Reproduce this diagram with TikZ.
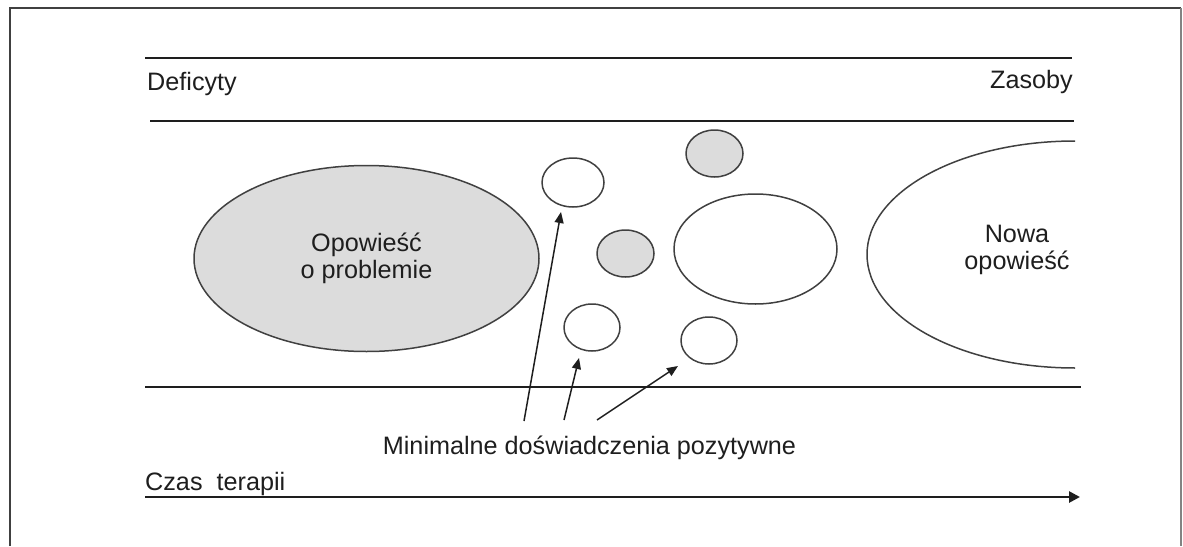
\documentclass[tikz,border=0pt]{standalone}
\usepackage{fontspec}
\setmainfont{Liberation Sans}
\usetikzlibrary{shapes.geometric,arrows.meta}
\definecolor{ink}{HTML}{1E1E1E}
\definecolor{edge}{HTML}{404040}
\definecolor{story}{HTML}{DCDCDC}
\begin{document}
\begin{tikzpicture}[x=1pt,y=-1pt,
  txt/.style={font=\fontsize{25.2}{27}\selectfont, text=ink, inner sep=0pt},
  band/.style={draw=ink, line width=2.6pt},
  blob/.style={ellipse, draw=edge, line width=1.5pt, inner sep=0pt},
  ptr/.style={draw=ink, line width=1.5pt, -{Triangle[length=11pt,width=9pt]}}
]
\useasboundingbox (0,0) rectangle (1183,546);
% outer frame, open at the bottom
\draw[draw=ink!85, line width=2.2pt] (10,546) -- (10,8) -- (1181,8);
\draw[draw=ink!55, line width=1.2pt] (1181,8) -- (1181,546);

% horizontal bands
\draw[band] (145,58) -- (1072,58);
\draw[band] (150,121) -- (1074,121);
\draw[band] (145,387) -- (1081,387);
\draw[band, -{Triangle[length=11pt,width=11pt]}] (145,497) -- (1080,497);

% band labels
\node[txt, anchor=base west] (def) at (147,90) {Deficyty};
\node[txt, anchor=base east] (zas) at (1073,88) {Zasoby};
\node[txt, anchor=base west] (czas) at (145,490) {Czas\ \ terapii};
\node[txt, anchor=base] (min) at (589.5,454) {Minimalne doświadczenia pozytywne};

% the problem story
\node[blob, txt, fill=story, minimum width=345pt, minimum height=186pt, align=center]
  (problem) at (366.5,258.5) {Opowieść\\o problemie};

% small experiences
\node[blob, minimum width=62pt, minimum height=49pt] (e1) at (573,182.5) {};
\node[blob, fill=story, minimum width=57pt, minimum height=47pt] (e2) at (714.5,153.5) {};
\node[blob, fill=story, minimum width=57pt, minimum height=47pt] (e3) at (625.5,253.5) {};
\node[blob, minimum width=163pt, minimum height=110pt] (e4) at (755.5,249) {};
\node[blob, minimum width=56pt, minimum height=47pt] (e5) at (592,327.5) {};
\node[blob, minimum width=56pt, minimum height=47pt] (e6) at (709,340.5) {};

% the new story: left half of an ellipse
\begin{scope}
  \clip (850,130) rectangle (1075,380);
  \draw[draw=edge, line width=1.5pt] (1075,254.5) ellipse [x radius=208, y radius=113.5];
\end{scope}
\node[txt, align=center] (nowa) at (1017,250) {Nowa\\opowieść};

% pointers from the caption
\coordinate (a1s) at (524,421);
\coordinate (a1e) at (561,212);
\coordinate (a2s) at (564,420);
\coordinate (a2e) at (579,358);
\coordinate (a3s) at (597,420);
\coordinate (a3e) at (678,366);
\draw[ptr] (a1s) -- (a1e);
\draw[ptr] (a2s) -- (a2e);
\draw[ptr] (a3s) -- (a3e);
\end{tikzpicture}
\end{document}
